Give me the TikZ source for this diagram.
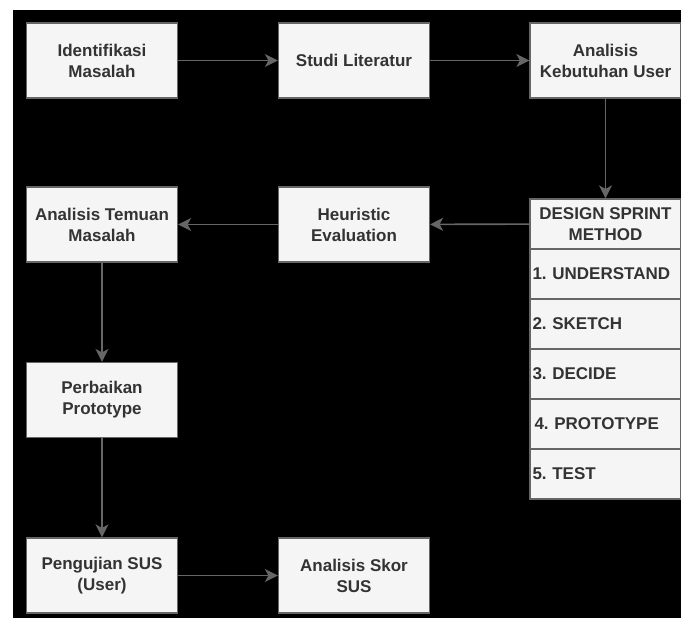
\documentclass[tikz,border=0pt]{standalone}
\usepackage{fontspec}
\setmainfont{Liberation Sans}
\usetikzlibrary{arrows.meta}
\frenchspacing

\begin{document}
\begin{tikzpicture}[x=1pt, y=-1pt,
        stepbox/.style={rectangle, draw=black!60, fill=black!4, line width=1.2pt, minimum width=151pt, minimum height=75pt, align=center, text=black!80, font=\fontsize{17}{21}\selectfont\bfseries},
        sprinthead/.style={stepbox, minimum height=50pt},
        sprintrow/.style={stepbox, minimum height=50pt, text width=146pt, align=left, inner xsep=2.5pt},
        flow/.style={draw=black!60, line width=1.6pt, -{Stealth[length=13pt, width=13pt, inset=3.5pt]}},
    ]
        %Background
        \useasboundingbox[fill=white] (0,0) rectangle (681,618);
        \fill[black] (12.7,10) rectangle (681,618);

        %Nodes
        \node[stepbox] (identifikasi) at (102,60.5) {Identifikasi\\Masalah};
        \node[stepbox] (studi) at (354,60.5) {Studi Literatur};
        \node[stepbox] (kebutuhan) at (605.5,60.5) {Analisis\\Kebutuhan User};

        \node[stepbox] (temuan) at (102,224.5) {Analisis Temuan\\Masalah};
        \node[stepbox] (heuristic) at (354,224.5) {Heuristic\\Evaluation};

        \node[sprinthead] (sprint) at (605.5,224) {DESIGN SPRINT\\METHOD};
        \node[sprintrow] (understand) at (605.5,274) {1. UNDERSTAND};
        \node[sprintrow] (sketch) at (605.5,324) {2. SKETCH};
        \node[sprintrow] (decide) at (605.5,374) {3. DECIDE};
        \node[sprintrow] (prototype) at (605.5,424) {\hspace{2pt}4. PROTOTYPE};
        \node[sprintrow] (test) at (605.5,474) {5. TEST};

        \node[stepbox] (perbaikan) at (102,400) {Perbaikan\\Prototype};
        \node[stepbox] (pengujian) at (102,575.5) {Pengujian SUS\\(User)};
        \node[stepbox] (skor) at (354,575.5) {Analisis Skor\\SUS};

        %Lines
        \draw[flow] (identifikasi) -- (studi);
        \draw[flow] (studi) -- (kebutuhan);
        \draw[flow] (kebutuhan) -- (sprint);

        \draw[flow] (sprint) -- (heuristic);
        \draw[flow] (heuristic) -- (temuan);

        \draw[flow] (temuan) -- (perbaikan);
        \draw[flow] (perbaikan) -- (pengujian);
        \draw[flow] (pengujian) -- (skor);
    \end{tikzpicture}
\end{document}
